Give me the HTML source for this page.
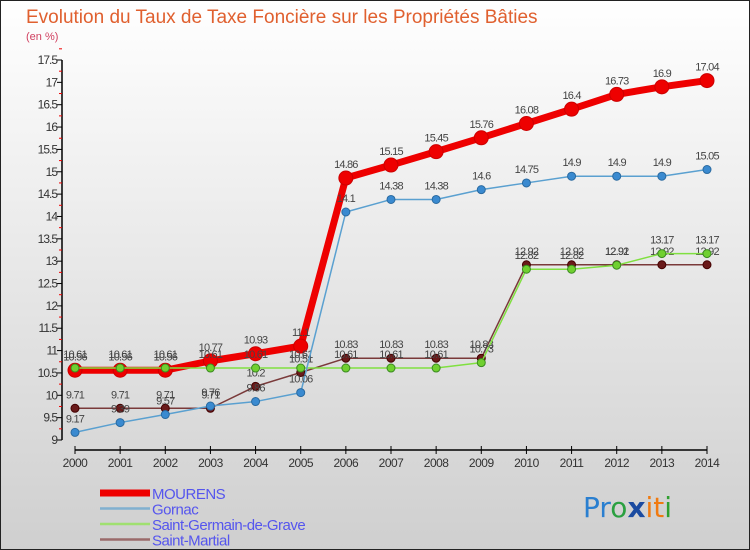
<!DOCTYPE html>
<html><head><meta charset="utf-8"><style>
body{margin:0;padding:0}
#wrap{width:750px;height:550px;position:relative;overflow:hidden;background:linear-gradient(#ffffff,#cfcfcf);font-family:"Liberation Sans",sans-serif}
</style></head><body>
<div id="wrap">
<svg id="chart" width="750" height="550" xmlns="http://www.w3.org/2000/svg">
<rect x="0.5" y="0.5" width="749" height="549" fill="none" stroke="#222"/>
<text x="26" y="23" font-size="19" fill="#e0602f">Evolution du Taux de Taxe Foncière sur les Propriétés Bâties</text>
<text x="26" y="40" font-size="11" fill="#d04060">(en %)</text>
<g id="axes"></g><g id="series"></g><g id="legend"></g>
<text x="583" y="517" font-size="28" font-family="'DejaVu Sans',sans-serif"><tspan fill="#2a7fd0">Pr</tspan><tspan fill="#2aa040">o</tspan><tspan fill="#1a4aa0" font-weight="bold">x</tspan><tspan fill="#f07a10">it</tspan><tspan fill="#30a030">i</tspan></text>
</svg>
</div>
<script>
const years=[2000,2001,2002,2003,2004,2005,2006,2007,2008,2009,2010,2011,2012,2013,2014];
const yTicks=[9,9.5,10,10.5,11,11.5,12,12.5,13,13.5,14,14.5,15,15.5,16,16.5,17,17.5];
const mourens=[10.56,10.56,10.56,10.77,10.93,11.1,14.86,15.15,15.45,15.76,16.08,16.4,16.73,16.9,17.04];
const gornac=[9.17,9.39,9.57,9.76,9.86,10.06,14.1,14.38,14.38,14.6,14.75,14.9,14.9,14.9,15.05];
const sgdg=[10.61,10.61,10.61,10.61,10.61,10.61,10.61,10.61,10.61,10.73,12.82,12.82,12.91,13.17,13.17];
const martial=[9.71,9.71,9.71,9.71,10.2,10.51,10.83,10.83,10.83,10.83,12.92,12.92,12.92,12.92,12.92];
const seriesNames=["MOURENS","Gornac","Saint-Germain-de-Grave","Saint-Martial"];
const NS="http://www.w3.org/2000/svg";
const X=i=>75+i*(707-75)/14;
const Y=v=>440-(v-9)*(380/8.5);
function mk(tag,attrs,parent){const e=document.createElementNS(NS,tag);for(const k in attrs)e.setAttribute(k,attrs[k]);parent.appendChild(e);return e;}
const axes=document.getElementById('axes');
let yl=mk('line',{x1:62,y1:Y(17.5),x2:62,y2:440,stroke:'#000','stroke-width':1.5},axes);

let xl=mk('line',{x1:75,y1:450,x2:707,y2:450,stroke:'#000','stroke-width':1.5},axes);

yTicks.forEach(v=>{
 mk('line',{x1:57,y1:Y(v),x2:62,y2:Y(v),stroke:'#000'},axes);
 mk('line',{x1:59,y1:Y(v+0.25),x2:62,y2:Y(v+0.25),stroke:'#e00'},axes);
 const t=mk('text',{x:57,y:Y(v)+4,'font-size':12,'text-anchor':'end',fill:'#333','letter-spacing':'-1'},axes);
 t.textContent=v;
});
years.forEach((yr,i)=>{
 mk('line',{x1:X(i),y1:446,x2:X(i),y2:454,stroke:'#000'},axes);
 const t=mk('text',{x:X(i),y:467,'font-size':12,'text-anchor':'middle',fill:'#333','letter-spacing':'-0.5'},axes);
 t.textContent=yr;
});
const sg=document.getElementById('series');
function draw(vals,color,w,r,dot,dotStroke,name){
 const g=mk('g',{},sg);
 mk('polyline',{points:vals.map((v,i)=>X(i)+','+Y(v)).join(' '),fill:'none',stroke:color,'stroke-width':w,'stroke-linejoin':'round'},g);
 vals.forEach((v,i)=>{
  const c=mk('circle',{cx:X(i),cy:Y(v),r:r,fill:dot,stroke:dotStroke,'stroke-width':1},g);
  
  const t=mk('text',{x:X(i),y:Y(v)-10,'font-size':11,'text-anchor':'middle',fill:'#444','letter-spacing':'-0.8'},g);
  t.textContent=v;
 });
}
draw(mourens,'#ee0000',7,7,'#ee0000','#c00','series-mourens');
draw(martial,'#7a3a3a',1.5,4,'#6a1a1a','#400','series-saint-martial');
draw(sgdg,'#80e040',1.5,4,'#70d030','#3a8a20','series-saint-germain');
draw(gornac,'#5aa0d0',1.5,4,'#3a8ad0','#2a6aa0','series-gornac');
const lg=document.getElementById('legend');
const lc=['#ee0000','#80b0d0','#a0e070','#9a6a6a'],lw=[7,2.5,2.5,2.5];
seriesNames.forEach((n,i)=>{
 const y=493+i*15.5;
 const l=mk('line',{x1:100,y1:y,x2:150,y2:y,stroke:lc[i],'stroke-width':lw[i]},lg);
 
 const t=mk('text',{x:152,y:y+6,'font-size':15,fill:'#5555ee','letter-spacing':'-0.5'},lg);
 t.textContent=n;
});
</script>
</body></html>
